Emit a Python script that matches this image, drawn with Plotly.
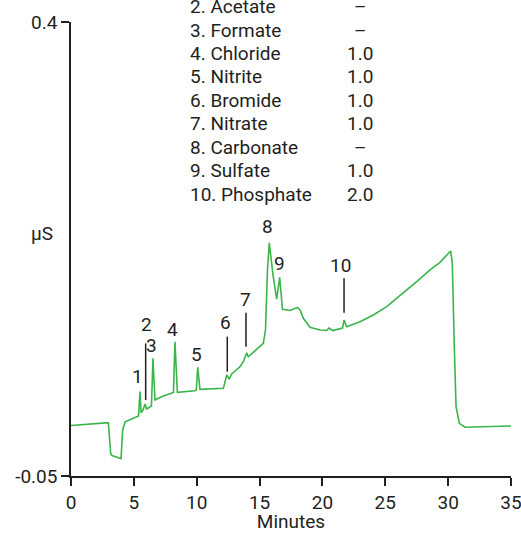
import plotly.graph_objects as go

# ---- Data ----
minutes = [0.0, 2.97, 3.16, 3.26, 3.98, 4.11, 4.30, 5.17, 5.37, 5.49, 5.57, 5.73, 5.89, 6.02,
           6.40, 6.52, 6.68, 7.24, 8.01, 8.15, 8.27, 8.46, 9.86, 9.97, 10.08, 10.26, 12.12,
           12.25, 12.39, 12.59, 12.78, 13.44, 13.71, 13.98, 14.10, 15.30, 15.47, 15.63, 15.77,
           16.07, 16.36, 16.60, 16.82, 17.42, 18.02, 18.22, 18.48, 19.01, 19.81, 20.34, 20.52,
           20.82, 21.45, 21.60, 21.72, 21.93, 22.99, 24.05, 25.11, 26.43, 27.50, 28.56, 29.35,
           30.20, 30.33, 30.49, 30.63, 30.89, 31.34, 35.0]
signal_uS = [0.000, 0.0028, -0.0282, -0.0297, -0.0328, -0.0044, 0.0038, 0.0078, 0.0095, 0.0336,
             0.0128, 0.0154, 0.0214, 0.0164, 0.0194, 0.0667, 0.0253, 0.0288, 0.0320, 0.0328,
             0.0831, 0.0330, 0.0345, 0.0352, 0.0577, 0.0359, 0.0369, 0.0422, 0.0501, 0.0461,
             0.0511, 0.0583, 0.0633, 0.0722, 0.0682, 0.0815, 0.0947, 0.1542, 0.1812, 0.1492,
             0.1254, 0.1470, 0.1152, 0.1140, 0.1170, 0.1145, 0.1063, 0.0974, 0.0947, 0.0942,
             0.0967, 0.0942, 0.0964, 0.0967, 0.1046, 0.0980, 0.1029, 0.1096, 0.1178, 0.1311,
             0.1426, 0.1542, 0.1618, 0.1730, 0.1611, 0.0782, 0.0187, 0.0022, -0.0017, -0.0004]

peak_labels = ["1", "2", "3", "4", "5", "6", "7", "8", "9", "10"]
peak_label_min = [5.27, 5.97, 6.42, 8.09, 10.0, 12.25, 13.90, 15.62, 16.55, 21.45]
peak_label_val = [0.0484, 0.0997, 0.0789, 0.0957, 0.0706, 0.1020, 0.1245, 0.1971, 0.1608, 0.1585]
# leader lines: (minute, top value, bottom value)
leader_min = [5.94, 12.43, 13.92, 21.72]
leader_top = [0.0815, 0.0881, 0.1119, 0.1460]
leader_bot = [0.0253, 0.0534, 0.0782, 0.1119]

table_names = ["2. Acetate", "3. Formate", "4. Chloride", "5. Nitrite", "6. Bromide",
               "7. Nitrate", "8. Carbonate", "9. Sulfate", "10. Phosphate"]
table_values = ["–", "–", "1.0", "1.0", "1.0", "1.0", "–", "1.0", "2.0"]

x_ticks = [0, 5, 10, 15, 20, 25, 30, 35]
y_ticks = [-0.05, 0.4]
y_tick_text = ["-0.05", "0.4"]

# ---- Styling ----
FONT = "Roboto, Liberation Sans, sans-serif"
FS = 19
TXT = "#231f20"
GREEN = "#39b54a"

fig = go.Figure()
fig.add_trace(go.Scatter(x=minutes, y=signal_uS, mode="lines",
                         line=dict(color=GREEN, width=1.6), hoverinfo="skip", showlegend=False))

annotations = []
for lab, xm, yv in zip(peak_labels, peak_label_min, peak_label_val):
    annotations.append(dict(x=xm, y=yv, xref="x", yref="y", text=lab, showarrow=False,
                            font=dict(family=FONT, size=FS, color=TXT),
                            xanchor="center", yanchor="middle"))

shapes = []
for xm, yt, yb in zip(leader_min, leader_top, leader_bot):
    shapes.append(dict(type="line", xref="x", yref="y", x0=xm, x1=xm, y0=yb, y1=yt,
                       line=dict(color=TXT, width=1.5)))

row_top = 1.034
row_step = 0.0517
for i, (nm, val) in enumerate(zip(table_names, table_values)):
    yy = row_top - i * row_step
    annotations.append(dict(x=0.265, y=yy, xref="paper", yref="paper", text=nm, showarrow=False,
                            font=dict(family=FONT, size=FS, color=TXT),
                            xanchor="left", yanchor="middle"))
    annotations.append(dict(x=0.657, y=yy, xref="paper", yref="paper", text=val, showarrow=False,
                            font=dict(family=FONT, size=FS, color=TXT),
                            xanchor="center", yanchor="middle"))

annotations.append(dict(x=-0.065, y=0.535, xref="paper", yref="paper", text="µS", showarrow=False,
                        font=dict(family=FONT, size=FS, color=TXT),
                        xanchor="center", yanchor="middle"))

fig.update_layout(
    width=521, height=533,
    margin=dict(l=71, r=10, t=22, b=57, autoexpand=False),
    paper_bgcolor="white", plot_bgcolor="white",
    font=dict(family=FONT, size=FS, color=TXT),
    xaxis=dict(range=[0, 35], tickmode="array", tickvals=x_ticks,
               showgrid=False, zeroline=False, showline=True, linecolor=TXT, linewidth=1.5,
               ticks="outside", ticklen=8, tickwidth=1.5, tickcolor=TXT, automargin=False,
               ticklabeloverflow="allow",
               title=dict(text="Minutes", font=dict(family=FONT, size=FS, color=TXT), standoff=2),
               tickfont=dict(family=FONT, size=FS, color=TXT)),
    yaxis=dict(range=[-0.05, 0.4], tickmode="array", tickvals=y_ticks, ticktext=y_tick_text,
               showgrid=False, zeroline=False, showline=True, linecolor=TXT, linewidth=1.5,
               ticks="outside", ticklen=8, tickwidth=1.5, tickcolor=TXT, automargin=False,
               ticklabeloverflow="allow",
               tickfont=dict(family=FONT, size=FS, color=TXT)),
    annotations=annotations,
    shapes=shapes,
)

fig.write_html("out.html", config={"displayModeBar": False},
               post_script="document.body.style.margin='0';document.body.style.overflow='hidden';")
